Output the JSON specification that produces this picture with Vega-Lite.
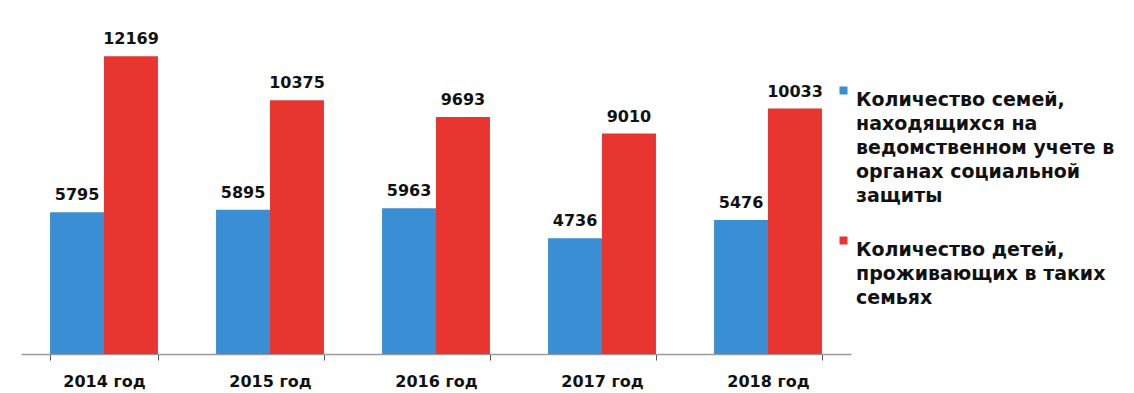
{
  "$schema": "https://vega.github.io/schema/vega-lite/v6.json",
  "autosize": {"type": "none"},
  "padding": {"left": 21, "top": 14, "right": 283, "bottom": 39},
  "width": 830,
  "height": 340,
  "background": "white",
  "data": {
    "values": [
      {"year": "2014 год", "series": "Количество семей, находящихся на ведомственном учете в органах социальной защиты", "value": 5795},
      {"year": "2014 год", "series": "Количество детей, проживающих в таких семьях", "value": 12169},
      {"year": "2015 год", "series": "Количество семей, находящихся на ведомственном учете в органах социальной защиты", "value": 5895},
      {"year": "2015 год", "series": "Количество детей, проживающих в таких семьях", "value": 10375},
      {"year": "2016 год", "series": "Количество семей, находящихся на ведомственном учете в органах социальной защиты", "value": 5963},
      {"year": "2016 год", "series": "Количество детей, проживающих в таких семьях", "value": 9693},
      {"year": "2017 год", "series": "Количество семей, находящихся на ведомственном учете в органах социальной защиты", "value": 4736},
      {"year": "2017 год", "series": "Количество детей, проживающих в таких семьях", "value": 9010},
      {"year": "2018 год", "series": "Количество семей, находящихся на ведомственном учете в органах социальной защиты", "value": 5476},
      {"year": "2018 год", "series": "Количество детей, проживающих в таких семьях", "value": 10033}
    ]
  },
  "encoding": {
    "x": {
      "field": "year", "type": "nominal", "title": null,
      "scale": {"paddingInner": 0.35, "paddingOuter": 0.175},
      "axis": {
        "labelAngle": 0, "labelFont": "DejaVu Sans", "labelFontWeight": "bold", "labelFontSize": 16,
        "labelColor": "#111", "labelPadding": 13, "tickBand": "extent", "tickSize": 6,
        "domainColor": "#9a9a9a", "tickColor": "#555", "domainWidth": 1.5
      }
    },
    "xOffset": {"field": "series", "type": "nominal", "sort": ["Количество семей, находящихся на ведомственном учете в органах социальной защиты", "Количество детей, проживающих в таких семьях"], "scale": {"paddingInner": 0}},
    "y": {"field": "value", "type": "quantitative", "scale": {"domain": [0, 13900]}, "axis": null}
  },
  "layer": [
    {
      "mark": {"type": "bar"},
      "encoding": {
        "color": {
          "field": "series", "type": "nominal",
          "sort": ["Количество семей, находящихся на ведомственном учете в органах социальной защиты", "Количество детей, проживающих в таких семьях"],
          "scale": {"range": ["#3a8ed3", "#e8352f"]},
          "legend": {
            "title": null, "orient": "none", "legendX": 813, "legendY": 67,
            "symbolType": "square", "symbolSize": 64, "symbolStrokeWidth": 0,
            "labelFont": "DejaVu Sans", "labelFontWeight": "bold", "labelFontSize": 19, "labelColor": "#111",
            "labelLimit": 400, "labelBaseline": "top", "labelOffset": 3, "rowPadding": 25,
            "labelExpr": "indexof(datum.label, 'семей') >= 0 ? ['Количество семей,', 'находящихся на', 'ведомственном учете в', 'органах социальной', 'защиты'] : ['Количество детей,', 'проживающих в таких', 'семьях']"
          }
        }
      }
    },
    {
      "mark": {"type": "text", "baseline": "bottom", "dy": -9, "font": "DejaVu Sans", "fontWeight": "bold", "fontSize": 16, "color": "#111"},
      "encoding": {"text": {"field": "value", "type": "quantitative", "format": "d"}}
    }
  ],
  "config": {
    "view": {"stroke": null},
    "style": {"guide-label": {"lineHeight": 24}}
  }
}
